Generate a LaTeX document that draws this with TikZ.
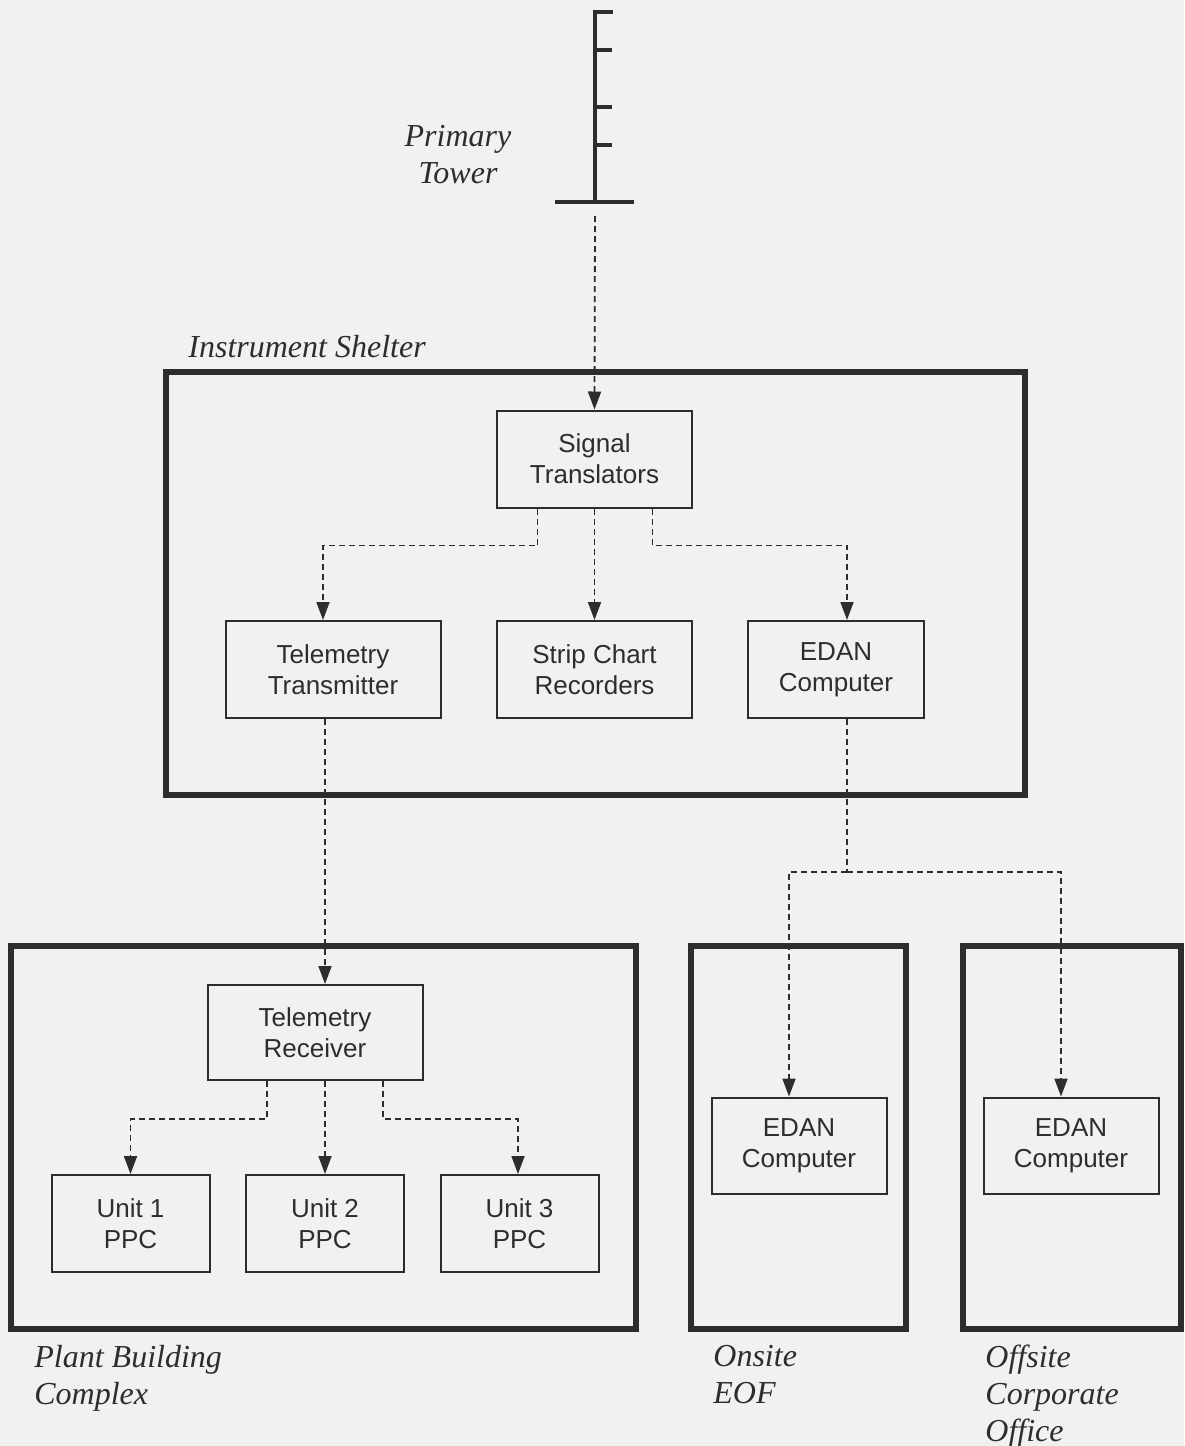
\documentclass[tikz,border=0pt]{standalone}
\usepackage{fontspec}
\setmainfont{Liberation Serif}
\setsansfont{Liberation Sans}
\usetikzlibrary{positioning, arrows.meta, calc}
\definecolor{ink}{RGB}{45,45,45}
\definecolor{paper}{RGB}{241,241,241}

\begin{document}
\begin{tikzpicture}[x=0.5pt, y=-0.5pt, ink,
    box/.style={draw, line width=1pt, fill=paper, inner sep=0pt, align=center,
        font=\sffamily\fontsize{13}{15.5}\selectfont, minimum height=48.5pt},
    area/.style={line width=2.6pt},
    dline/.style={line width=0.9pt, dash pattern=on 3pt off 2pt},
    link/.style={dline, -{Triangle[length=9pt, width=6.5pt]}},
    tag/.style={font=\itshape\fontsize{16}{18.5}\selectfont, inner sep=0pt, align=left}]
    % Page
    \fill[paper] (0,0) rectangle (1184,1446);
    \useasboundingbox (0,0) rectangle (1184,1446);

    % Primary tower
    \draw[line width=2pt] (613,12) -- (595,12) -- (595,202);
    \foreach \y in {50,107,145} {
        \draw[line width=2pt] (595,\y) -- (612,\y);
    }
    \draw[line width=2pt] (555,202) -- (634,202);
    \coordinate (foot) at (595,216);
    \node[tag, align=center] (towerlbl) at (458,155) {Primary\\Tower};

    % Buildings
    \draw[area] (166,372) rectangle (1025,795);
    \draw[area] (11,946) rectangle (636,1329);
    \draw[area] (691,946) rectangle (906,1329);
    \draw[area] (963,946) rectangle (1181,1329);

    \node[tag, anchor=west] (shelterlbl) at (188,347) {Instrument Shelter};
    \node[tag, anchor=north west] (plantlbl) at (34,1345) {Plant Building\\Complex};
    \node[tag, anchor=north west] (onsitelbl) at (713,1345) {Onsite\\EOF};
    \node[tag, anchor=north west] (offsitelbl) at (985,1345) {Offsite\\Corporate\\Office};

    % Instrument shelter equipment
    \node[box, minimum width=97.5pt] (st) at (594.5,459) {Signal\\Translators};
    \node[box, minimum width=107.5pt] (tt) at (333,669.5) {Telemetry\\Transmitter};
    \node[box, minimum width=97.5pt] (sc) at (594.5,669.5) {Strip Chart\\Recorders};
    \node[box, minimum width=88pt] (ec) at (836,669.5) {EDAN\\Computer};

    % Plant building equipment
    \node[box, minimum width=107.5pt, minimum height=47.5pt] (tr) at (315,1032.5) {Telemetry\\Receiver};
    \foreach \n/\x in {1/130.5, 2/325, 3/519.5} {
        \node[box, minimum width=79pt] (u\n) at (\x,1223.5) {Unit \n\\PPC};
    }

    % EOF and corporate office
    \node[box, minimum width=87.5pt, minimum height=48pt] (e1) at (799,1145.5) {EDAN\\Computer};
    \node[box, minimum width=87.5pt, minimum height=48pt] (e2) at (1071,1145.5) {EDAN\\Computer};

    % Signal paths
    \draw[link] (foot) -- (st.north);
    \draw[link] ($(st.south)+(-57,0)$) -- ++(0,37) -| ($(tt.north)+(-10,0)$);
    \draw[link] (st.south) -- (sc.north);
    \draw[link] ($(st.south)+(58,0)$) -- ++(0,37) -| ($(ec.north)+(11,0)$);

    \draw[link] ($(tt.south)+(-8,0)$) -- ($(tr.north)+(10,0)$);
    \draw[link] ($(tr.south)+(-48,0)$) -- ++(0,38) -| (u1.north);
    \draw[link] ($(tr.south)+(10,0)$) -- (u2.north);
    \draw[link] ($(tr.south)+(68,0)$) -- ++(0,38) -| ($(u3.north)+(-1.5,0)$);

    \coordinate (split) at (847,872);
    \draw[dline] ($(ec.south)+(11,0)$) -- (split);
    \draw[link] (split) -| ($(e1.north)+(-10,0)$);
    \draw[link] (split) -| ($(e2.north)+(-10,0)$);
\end{tikzpicture}
\end{document}
